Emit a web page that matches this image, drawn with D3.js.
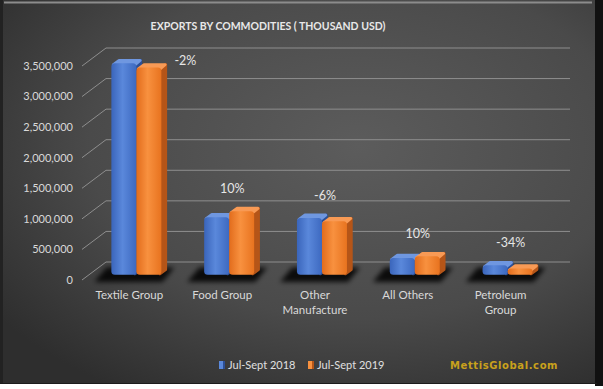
<!DOCTYPE html>
<html>
<head>
<meta charset="utf-8">
<script src="https://cdn.jsdelivr.net/npm/d3@7"></script>
<style>
  body { margin: 0; background: #fff; }
  svg text { font-family: Lato, "Open Sans", sans-serif; }
</style>
</head>
<body>
<div id="chart"></div>
<script>
// chart values (thousand USD)
const categories = ["Textile Group", "Food Group", "Other Manufacture", "All Others", "Petroleum Group"];
const seriesNames = ["Jul-Sept 2018", "Jul-Sept 2019"];
const values2018 = [3460000, 940000, 930000, 275000, 155000];
const values2019 = [3390000, 1040000, 875000, 303000, 102000];
const changeLabels = ["-2%", "10%", "-6%", "10%", "-34%"];
const yTicks = [0, 500000, 1000000, 1500000, 2000000, 2500000, 3000000, 3500000];

const width = 603, height = 389;
const depthX = 24, depthY = -18;   // 3d wall offset

const svg = d3.select("#chart").append("svg")
    .attr("width", width)
    .attr("height", height);

const defs = svg.append("defs");

let bg = defs.append("radialGradient").attr("id", "bg")
    .attr("cx", "60%").attr("cy", "38%").attr("r", "75%");
bg.append("stop").attr("offset", "0%").attr("stop-color", "#5c5c5c");
bg.append("stop").attr("offset", "60%").attr("stop-color", "#4a4a4a");
bg.append("stop").attr("offset", "100%").attr("stop-color", "#2e2e2e");

const palette = [
    { front: ["#3a65bb", "#5a88db", "#3d69c0"], top: "#6f97e0", side: "#2c4f96" },
    { front: ["#e26c1c", "#f8913f", "#e8731f"], top: "#f89a55", side: "#b55518" }
];
palette.forEach((p, i) => {
    let g = defs.append("linearGradient").attr("id", "front" + i)
        .attr("x1", "0%").attr("x2", "100%").attr("y1", "0%").attr("y2", "0%");
    g.append("stop").attr("offset", "0%").attr("stop-color", p.front[0]);
    g.append("stop").attr("offset", "45%").attr("stop-color", p.front[1]);
    g.append("stop").attr("offset", "100%").attr("stop-color", p.front[2]);
});

defs.append("filter").attr("id", "blur")
    .attr("x", "-50%").attr("y", "-50%").attr("width", "200%").attr("height", "200%")
    .append("feGaussianBlur").attr("stdDeviation", 2.5);

// panel
svg.append("rect").attr("x", 0).attr("y", 0).attr("width", 597).attr("height", 384)
    .attr("fill", "url(#bg)");
svg.append("rect").attr("x", 0).attr("y", 0).attr("width", 3).attr("height", 384).attr("fill", "#222");
svg.append("rect").attr("x", 595).attr("y", 0).attr("width", 8).attr("height", 386).attr("fill", "#111");
svg.append("line").attr("x1", 4).attr("x2", 592).attr("y1", 2.5).attr("y2", 2.5)
    .attr("stroke", "#8c8c8c").attr("stroke-width", 2);
svg.append("line").attr("x1", 0).attr("x2", 597).attr("y1", 383.5).attr("y2", 383.5)
    .attr("stroke", "#1c1c1c").attr("stroke-width", 1);

// scales (front plane)
const x = d3.scaleBand().domain(categories).range([83, 547]);
const xs = d3.scaleBand().domain([0, 1]).range([0, 50]);
const y = d3.scaleLinear().domain([0, 3500000]).range([280, 66]);

// gridlines: diagonal side wall + back wall
const grid = svg.append("g");
grid.selectAll(".diag").data(yTicks).enter().append("line")
    .attr("x1", 82).attr("y1", d => y(d))
    .attr("x2", 82 + depthX).attr("y2", d => y(d) + depthY)
    .attr("stroke", "#8e8e8e").attr("stroke-width", 1);
grid.selectAll(".back").data(yTicks).enter().append("line")
    .attr("x1", 82 + depthX).attr("y1", d => y(d) + depthY)
    .attr("x2", 570).attr("y2", d => y(d) + depthY)
    .attr("stroke", "#8e8e8e").attr("stroke-width", 1);

// y axis labels
svg.append("g").selectAll("text").data(yTicks).enter().append("text")
    .attr("x", 73).attr("y", d => y(d))
    .attr("dy", "0.35em")
    .attr("text-anchor", "end")
    .attr("font-size", 11)
    .attr("fill", "#d9d9d9")
    .text(d => d3.format(",")(d));

// title
svg.append("text")
    .attr("x", 268).attr("y", 30)
    .attr("text-anchor", "middle")
    .attr("font-size", 10.5)
    .attr("font-weight", "bold")
    .attr("fill", "#e8e8e8")
    .text("EXPORTS BY COMMODITIES ( THOUSAND USD)");

// bars
const d1 = 0.29, d2 = 0.53;   // bar front / back depth
let bars = [];
categories.forEach((c, i) => {
    [values2018[i], values2019[i]].forEach((v, s) => {
        bars.push({ cat: c, s: s, value: v, x0: x(c) + x.bandwidth() / 2 - 25 + xs(s) });
    });
});

const shadows = svg.append("g").attr("filter", "url(#blur)");
categories.forEach(c => {
    let x0 = x(c) + x.bandwidth() / 2 - 25;
    let fx = x0 - 10, bx = x0 + 50 + 8;
    let fy = y(0) + 2, by = y(0) + depthY * 0.7;
    shadows.append("polygon")
        .attr("points", [[fx, fy], [bx, fy], [bx + 12, by], [fx + 12, by]].map(p => p.join(",")).join(" "))
        .attr("fill", "#000").attr("opacity", 0.85);
});

const barG = svg.append("g");
bars.forEach(b => {
    let w = xs.bandwidth();
    let fx = b.x0 + depthX * d1, fyTop = y(b.value) + depthY * d1, fyBot = y(0) + depthY * d1;
    let ox = depthX * (d2 - d1), oy = depthY * (d2 - d1);
    let p = palette[b.s];
    barG.append("polygon")
        .attr("points", [[fx + w - 1.5, fyTop], [fx + w + ox - 1.5, fyTop + oy + 1.5], [fx + w + ox - 1.5, fyBot + oy - 1], [fx + w - 1.5, fyBot - 1]]
            .map(q => q.join(",")).join(" "))
        .attr("fill", p.side)
        .attr("stroke", p.side).attr("stroke-width", 3).attr("stroke-linejoin", "round");
    barG.append("polygon")
        .attr("points", [[fx + 2, fyTop + 1.5], [fx + w - 1.5, fyTop + 1.5], [fx + w + ox - 2, fyTop + oy + 1.5], [fx + ox + 2, fyTop + oy + 1.5]]
            .map(q => q.join(",")).join(" "))
        .attr("fill", p.top)
        .attr("stroke", p.top).attr("stroke-width", 3).attr("stroke-linejoin", "round");
    barG.append("rect")
        .attr("x", fx).attr("y", fyTop)
        .attr("width", w).attr("height", fyBot - fyTop)
        .attr("rx", 3.5)
        .attr("fill", "url(#front" + b.s + ")");
});

// change labels
svg.append("g").selectAll("text").data(categories).enter().append("text")
    .attr("x", (c, i) => i === 0 ? x(c) + x.bandwidth() / 2 + 56 : x(c) + x.bandwidth() / 2 + 10)
    .attr("y", (c, i) => {
        let top = y(Math.max(values2018[i], values2019[i])) + depthY * d2;
        return i === 0 ? top + 2 : top - 18;
    })
    .attr("dy", "0.35em")
    .attr("text-anchor", "middle")
    .attr("font-size", 12.5)
    .attr("fill", "#e6e6e6")
    .text((c, i) => changeLabels[i]);

// category labels (wrapped)
const catG = svg.append("g");
categories.forEach(c => {
    let t = catG.append("text")
        .attr("x", x(c) + x.bandwidth() / 2)
        .attr("y", 299)
        .attr("text-anchor", "middle")
        .attr("font-size", 11.5)
        .attr("fill", "#d9d9d9")
        .text(c);
    if (t.node().getComputedTextLength() > 78) {
        let words = c.split(" ");
        t.text(null);
        words.forEach((wd, k) => {
            t.append("tspan").attr("x", x(c) + x.bandwidth() / 2)
                .attr("dy", k === 0 ? 0 : 15).text(wd);
        });
    }
});

// legend
const legend = svg.append("g");
const legendX = [219, 308];
seriesNames.forEach((n, i) => {
    legend.append("rect").attr("x", legendX[i]).attr("y", 361)
        .attr("width", 6).attr("height", 8).attr("fill", palette[i].front[1]);
    legend.append("rect").attr("x", legendX[i] + 4).attr("y", 361)
        .attr("width", 2).attr("height", 8).attr("fill", palette[i].side);
    legend.append("text").attr("x", legendX[i] + 9).attr("y", 365)
        .attr("dy", "0.35em")
        .attr("font-size", 11)
        .attr("fill", "#e0e0e0")
        .text(n);
});

svg.append("text")
    .attr("x", 450).attr("y", 365)
    .attr("dy", "0.35em")
    .style("font-family", "'DejaVu Sans', sans-serif")
    .attr("font-size", 10)
    .attr("font-weight", "bold")
    .attr("letter-spacing", 0.6)
    .attr("fill", "#c9a11c")
    .text("MettisGlobal.com");
</script>
</body>
</html>
